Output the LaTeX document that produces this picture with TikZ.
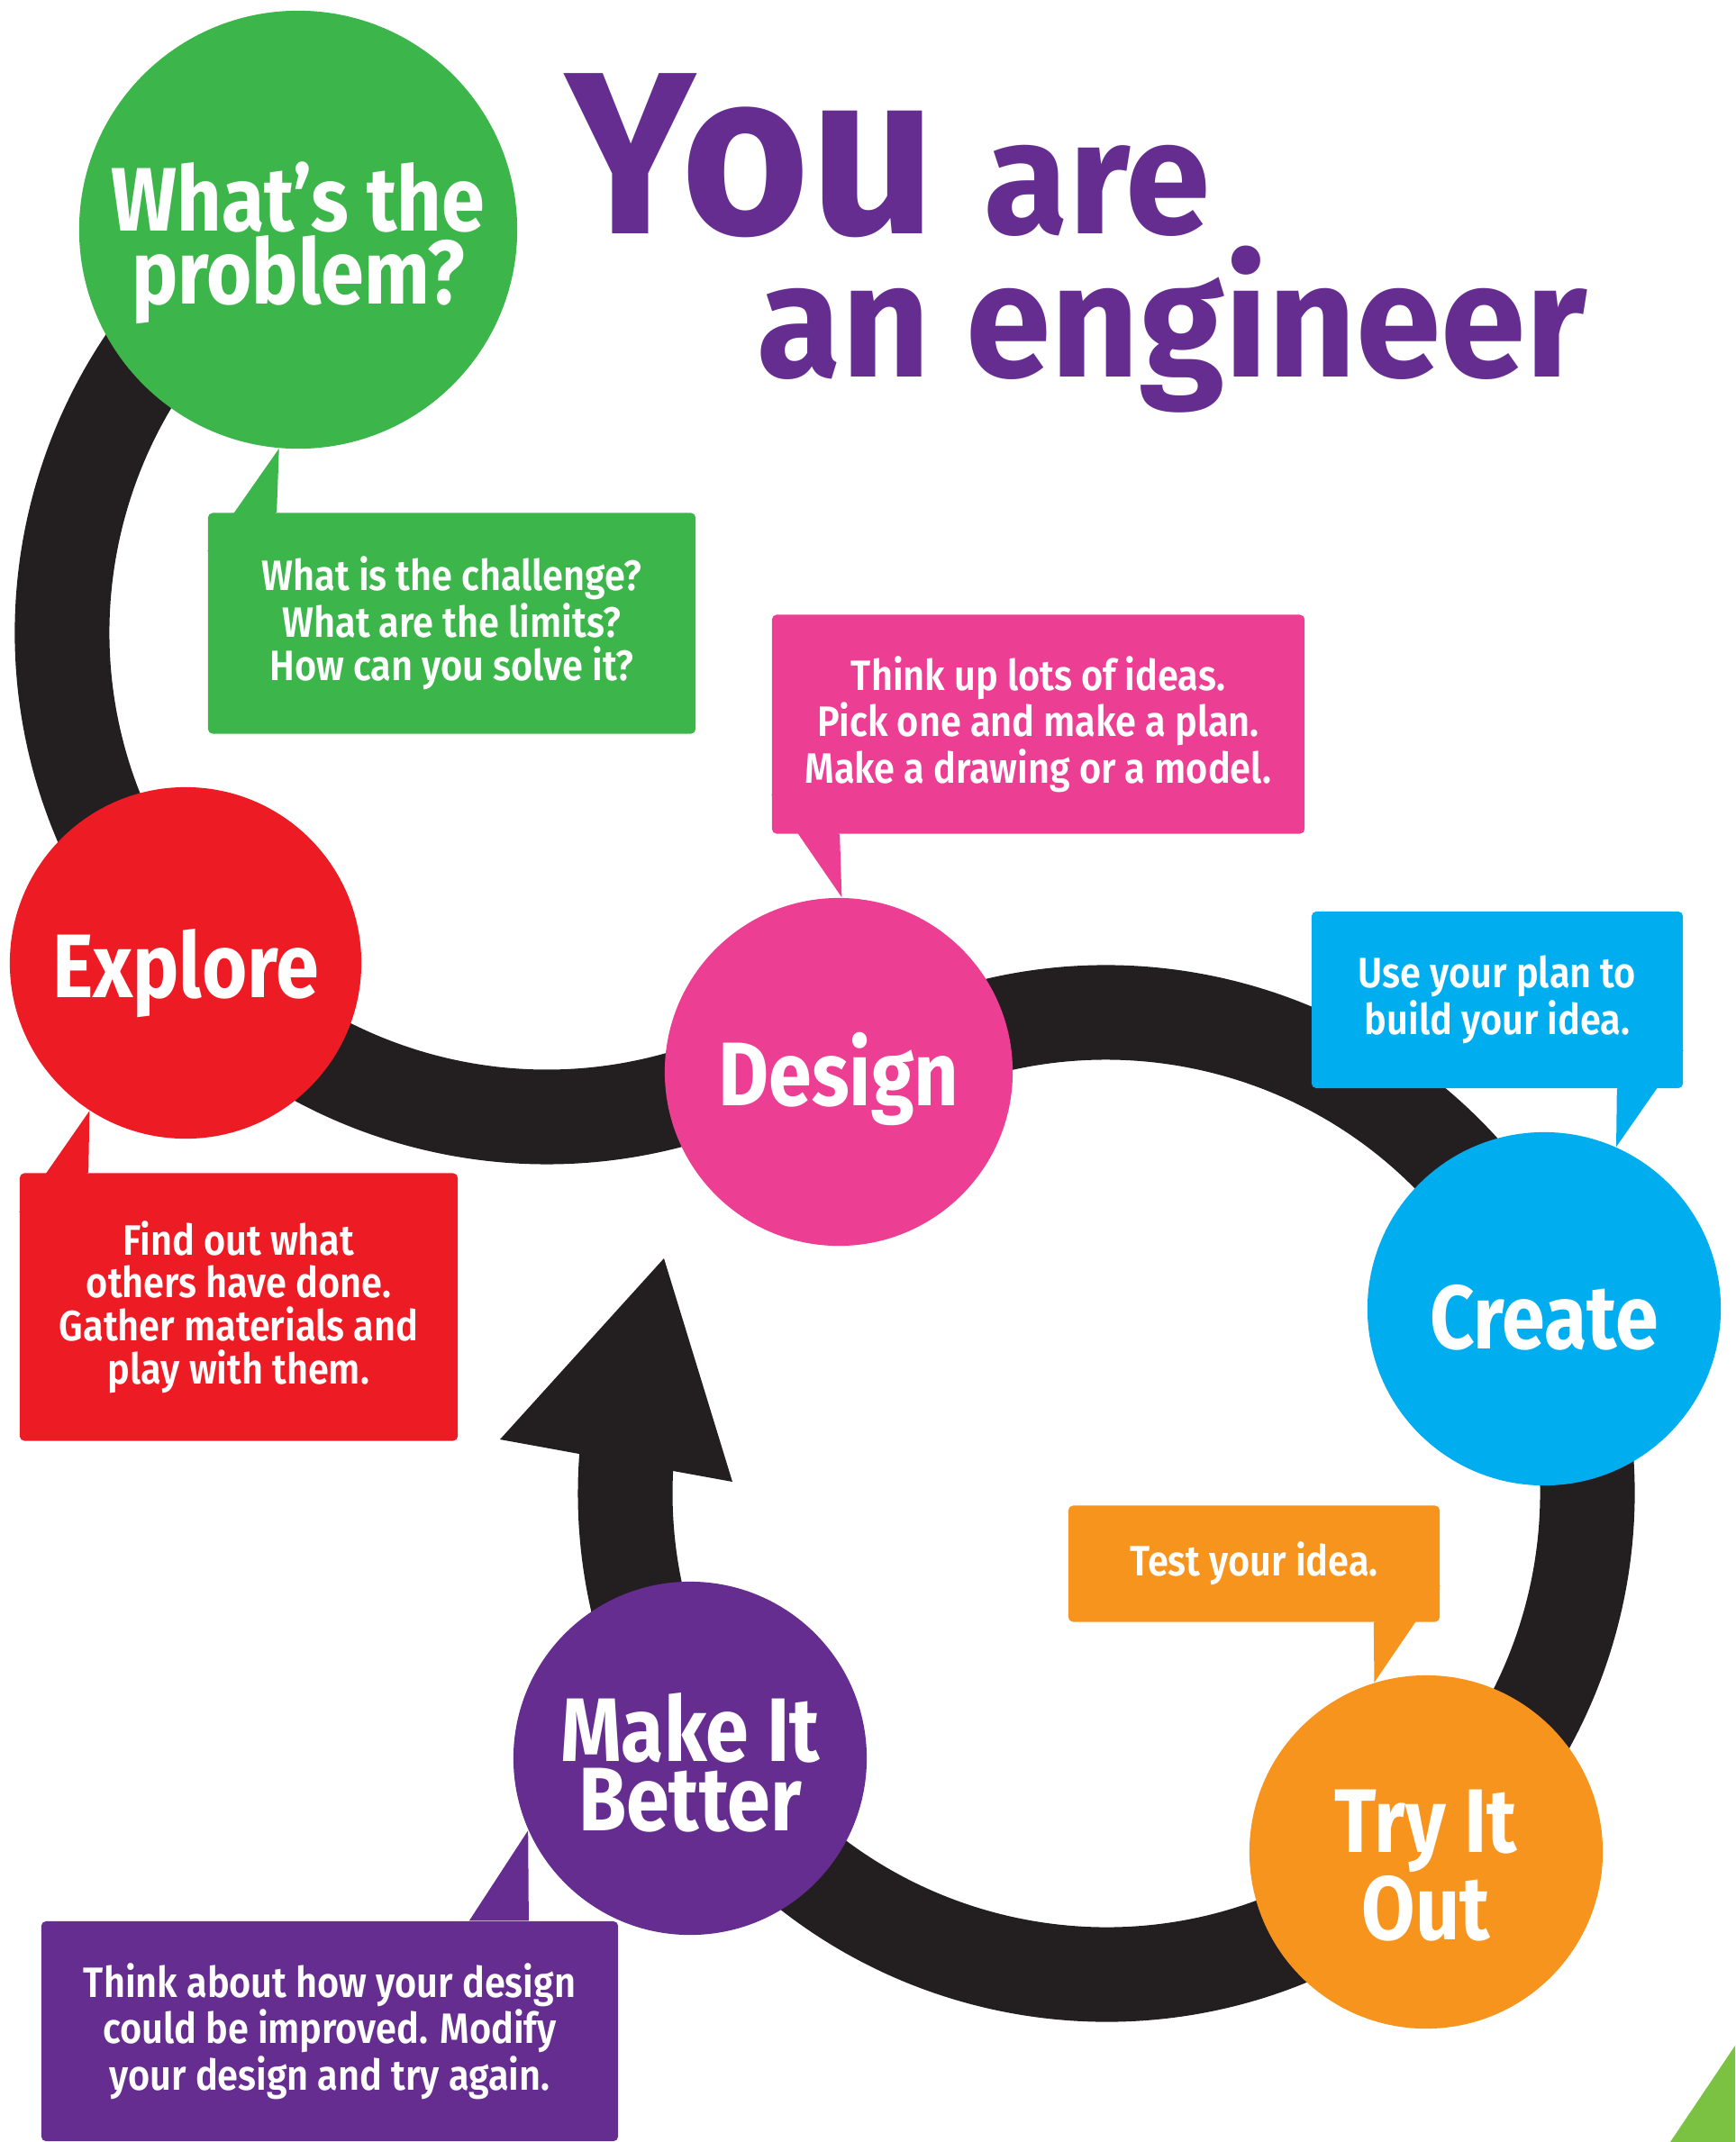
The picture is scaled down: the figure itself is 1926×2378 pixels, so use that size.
\documentclass[tikz,border=0pt]{standalone}
\usepackage{fontspec}
\setmainfont{Fira Sans}[FakeStretch=0.86]
\newfontfamily\headfont{Fira Sans}[FakeStretch=0.95]
\newfontfamily\bubblefont{Fira Sans SemiBold}[FakeStretch=0.88]
\usetikzlibrary{calc,positioning}
\definecolor{cgreen}{HTML}{3CB54A}
\definecolor{cred}{HTML}{ED1C24}
\definecolor{cpink}{HTML}{EC3F93}
\definecolor{cblue}{HTML}{00AEEF}
\definecolor{corange}{HTML}{F7941D}
\definecolor{cpurple}{HTML}{652D90}
\definecolor{cblack}{HTML}{231F20}
\definecolor{clime}{HTML}{7CC242}

\begin{document}
\begin{tikzpicture}[x=0.01cm,y=-0.01cm,line join=round]
\tikzset{every node/.style={text=white,inner sep=0pt},
  stage/.style={circle,minimum size=3.9cm},
  stagetext/.style={align=center,font=\bfseries\fontsize{28.5}{22}\selectfont},
  bubble/.style={rounded corners=1.5pt,align=center,font=\bubblefont\fontsize{13.4}{13.6}\selectfont},
  loop/.style={cblack,line width=1.05cm,line cap=butt}}
\useasboundingbox (0,0) rectangle (1926,2378);
\fill[clime] (1854,2378)--(1926,2271)--(1926,2378)--cycle;
% the two loops
\draw[loop] (607,702) ++(-120:538) arc[start angle=-120,end angle=-303,radius=538];
\draw[loop] (1228,1658) ++(-122:534) arc[start angle=-122,end angle=186,radius=534];
\fill[cblack] (555,1598)--(737,1397)--(813,1645)--cycle;
% title
\node[anchor=base west,text=cpurple,font=\headfont\bfseries\fontsize{73}{73}\selectfont] (you) at (627,259) {You};
\node[anchor=base west,text=cpurple,font=\headfont\bfseries\fontsize{51}{51}\selectfont] (are) at (1092,259) {are};
\node[anchor=base west,text=cpurple,font=\headfont\bfseries\fontsize{51}{51}\selectfont] (engineer) at (840,418) {an engineer};
% stages
\node[stage,fill=cgreen,minimum size=4.86cm] (problem) at (331,255) {};
\node[stage,fill=cred] (explore) at (206,1069) {};
\node[stage,fill=cpink,minimum size=3.86cm] (design) at (931,1190) {};
\node[stage,fill=cblue,minimum size=3.92cm] (create) at (1714,1453) {};
\node[stage,fill=corange,minimum size=3.92cm] (tryout) at (1583,2056) {};
\node[stage,fill=cpurple,minimum size=3.92cm] (better) at (766,1952) {};
\node[stagetext] (problem-t) at ($(problem)+(0,15)$) {What’s the\\problem?};
\node[stagetext] (explore-t) at ($(explore)+(0,12)$) {Explore};
\node[stagetext] (design-t) at ($(design)+(0,8)$) {Design};
\node[stagetext] (create-t) at ($(create)+(0,10)$) {Create};
\node[stagetext] (tryout-t) at ($(tryout)+(0,15)$) {Try It\\Out};
\node[stagetext] (better-t) at ($(better)+(0,5)$) {Make It\\Better};
% bubbles
\node[bubble,fill=cgreen,minimum width=5.41cm,minimum height=2.45cm] (challenge) at (501.5,692)
  {What is the challenge?\\What are the limits?\\How can you solve it?};
\fill[cgreen] ($(challenge.north west)+(0,43)$)--(problem.265)--($(challenge.north west)+(77,0)$)--cycle;
\node[bubble,fill=cpink,minimum width=5.91cm,minimum height=2.43cm] (ideas) at (1152.5,804)
  {Think up lots of ideas.\\Pick one and make a plan.\\Make a drawing or a model.};
\fill[cpink] ($(ideas.south west)+(0,-44)$)--(design.89)--($(ideas.south west)+(76,0)$)--cycle;
\node[bubble,fill=cblue,minimum width=4.12cm,minimum height=1.96cm] (build) at (1662,1110)
  {Use your plan to\\build your idea.};
\fill[cblue] ($(build.south east)+(0,-43)$)--(create.66)--($(build.south east)+(-74,0)$)--cycle;
\node[bubble,fill=cred,minimum width=4.86cm,minimum height=2.97cm] (findout) at (265,1451)
  {Find out what\\others have done.\\Gather materials and\\play with them.};
\fill[cred] ($(findout.north west)+(0,44)$)--(explore.237)--($(findout.north west)+(77,0)$)--cycle;
\node[bubble,fill=corange,minimum width=4.12cm,minimum height=1.29cm] (test) at (1392,1736)
  {Test your idea.};
\fill[corange] ($(test.south east)+(0,-41)$)--(tryout.107)--($(test.south east)+(-74,0)$)--cycle;
\node[bubble,fill=cpurple,minimum width=6.40cm,minimum height=2.44cm] (improve) at (366,2255)
  {Think about how your design\\could be improved. Modify\\your design and try again.};
\fill[cpurple] ($(improve.north east)+(-166,0)$)--(better.204)--($(improve.north east)+(-100,0)$)--cycle;
\end{tikzpicture}
\end{document}
